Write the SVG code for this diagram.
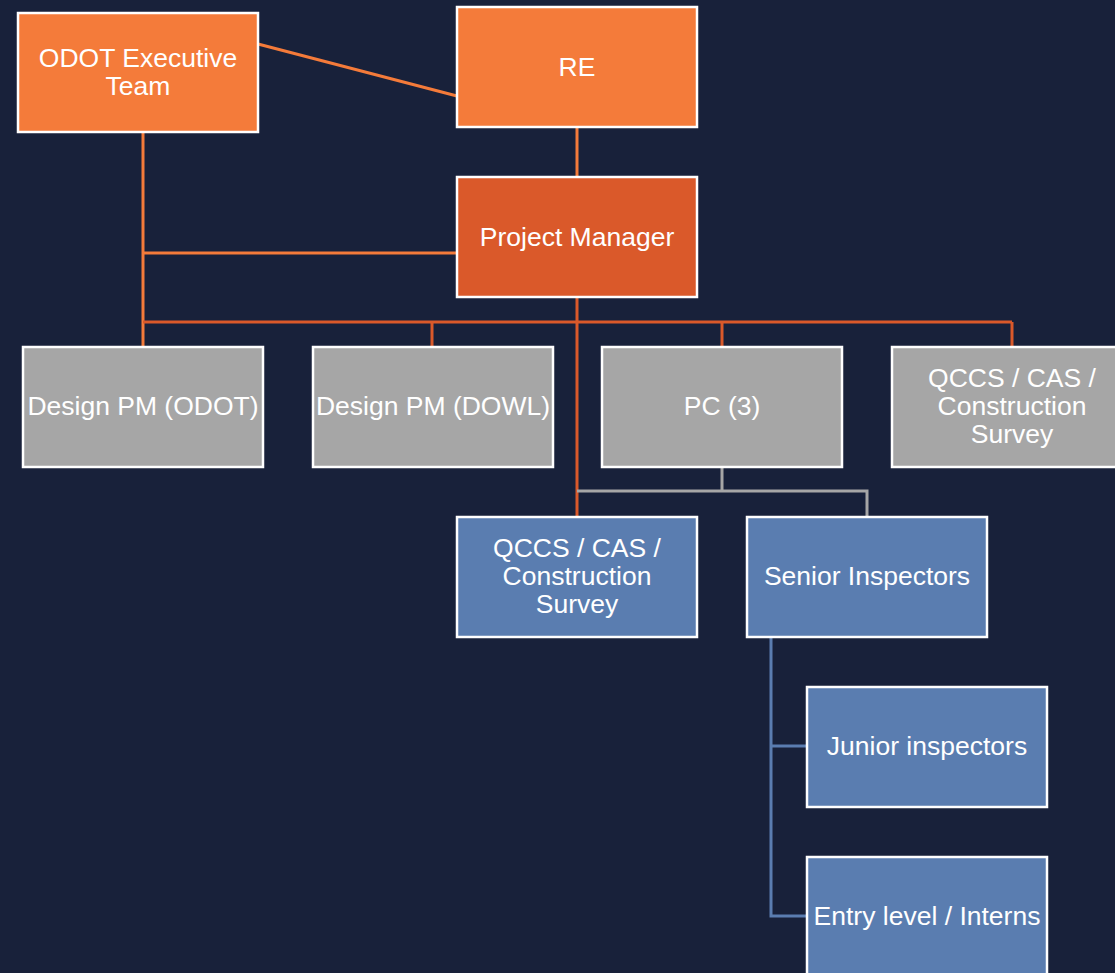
<svg xmlns="http://www.w3.org/2000/svg" width="1115" height="973" viewBox="0 0 1115 973">
<style>
.bx{stroke:#fff;stroke-width:2.5}
.o{fill:#F47B3A}
.pm{fill:#DA592A}
.g{fill:#A6A6A6}
.b{fill:#5A7DB0}
text{font-family:"Liberation Sans",Arial,sans-serif;font-size:26.5px;fill:#fff;text-anchor:middle}
.c{fill:none;stroke-width:3}
</style>
<rect width="1115" height="973" fill="#18213A"/>
<g id="connectors">
<path class="c" stroke="#F47B3A" d="M258,44 L457,96 M577,127 V177 M143,132 V347 M143,253 H457"/>
<path class="c" stroke="#DA592A" d="M577,297 V517 M143,322 H1012 M432,322 V347 M722,322 V347 M1012,322 V347"/>
<path class="c" stroke="#A6A6A6" d="M722,467 V491 M577,491 H867 V517"/>
<path class="c" stroke="#5A7DB0" d="M771,637 V916 H807 M771,746 H807"/>
</g>
<g id="exec"><rect class="bx o" x="18" y="13" width="240" height="119"/><text x="138" y="67">ODOT Executive</text><text x="138" y="95">Team</text></g>
<g id="re"><rect class="bx o" x="457" y="7" width="240" height="120"/><text x="577" y="76">RE</text></g>
<g id="pm"><rect class="bx pm" x="457" y="177" width="240" height="120"/><text x="577" y="245.5">Project Manager</text></g>
<g id="dpm-odot"><rect class="bx g" x="23" y="347" width="240" height="120"/><text x="143" y="415">Design PM (ODOT)</text></g>
<g id="dpm-dowl"><rect class="bx g" x="313" y="347" width="240" height="120"/><text x="433" y="415">Design PM (DOWL)</text></g>
<g id="pc"><rect class="bx g" x="602" y="347" width="240" height="120"/><text x="722" y="415">PC (3)</text></g>
<g id="qccs-gray"><rect class="bx g" x="892" y="347" width="240" height="120"/><text x="1012" y="387">QCCS / CAS /</text><text x="1012" y="415">Construction</text><text x="1012" y="443">Survey</text></g>
<g id="qccs-blue"><rect class="bx b" x="457" y="517" width="240" height="120"/><text x="577" y="557">QCCS / CAS /</text><text x="577" y="585">Construction</text><text x="577" y="613">Survey</text></g>
<g id="senior"><rect class="bx b" x="747" y="517" width="240" height="120"/><text x="867" y="585">Senior Inspectors</text></g>
<g id="junior"><rect class="bx b" x="807" y="687" width="240" height="120"/><text x="927" y="755">Junior inspectors</text></g>
<g id="entry"><rect class="bx b" x="807" y="857" width="240" height="120"/><text x="927" y="925">Entry level / Interns</text></g>
</svg>
